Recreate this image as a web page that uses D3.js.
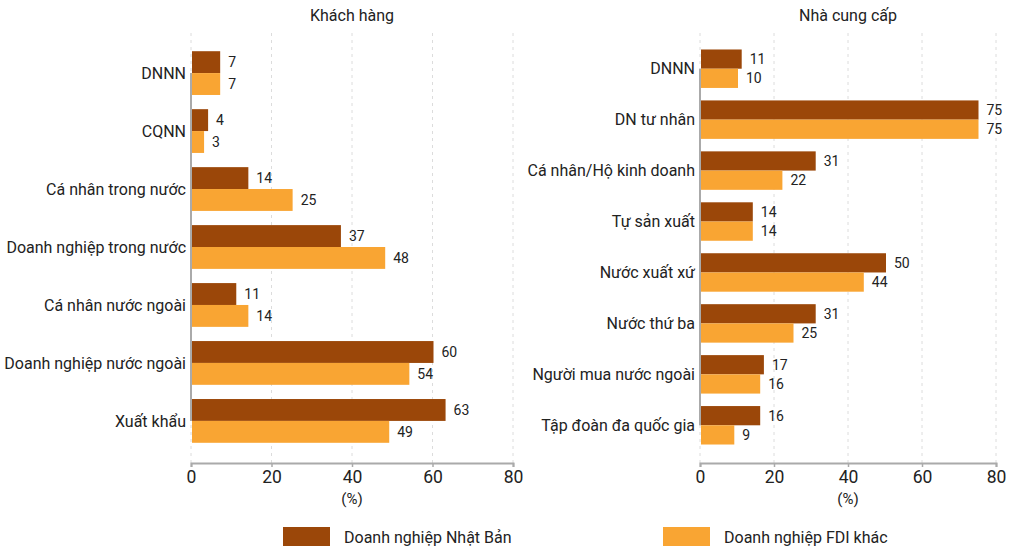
<!DOCTYPE html>
<html>
<head>
<meta charset="utf-8">
<script src="https://cdn.jsdelivr.net/npm/d3@7/dist/d3.min.js"></script>
<style>
  html, body { margin: 0; padding: 0; background: #fff; }
  svg text { font-family: Roboto, "Noto Sans", sans-serif; fill: #222; }
</style>
</head>
<body>
<svg id="chart" width="1011" height="549"></svg>
<script>
// Series names and colours
const seriesNames = ["Doanh nghiệp Nhật Bản", "Doanh nghiệp FDI khác"];
const seriesColors = ["#9b4709", "#f9a533"];

// Panel 1: customers
const customerTitle = "Khách hàng";
const customerCategories = ["DNNN", "CQNN", "Cá nhân trong nước", "Doanh nghiệp trong nước",
  "Cá nhân nước ngoài", "Doanh nghiệp nước ngoài", "Xuất khẩu"];
const customerJapan = [7, 4, 14, 37, 11, 60, 63];
const customerOtherFDI = [7, 3, 25, 48, 14, 54, 49];

// Panel 2: suppliers
const supplierTitle = "Nhà cung cấp";
const supplierCategories = ["DNNN", "DN tư nhân", "Cá nhân/Hộ kinh doanh", "Tự sản xuất",
  "Nước xuất xứ", "Nước thứ ba", "Người mua nước ngoài", "Tập đoàn đa quốc gia"];
const supplierJapan = [11, 75, 31, 14, 50, 31, 17, 16];
const supplierOtherFDI = [10, 75, 22, 14, 44, 25, 16, 9];

const xTicks = [0, 20, 40, 60, 80];
const axisUnit = "(%)";

const svg = d3.select("#chart");

function drawPanel(opt) {
  const g = svg.append("g");
  const x = d3.scaleLinear().domain([0, 80]).range([opt.x0, opt.x1]);
  const y = d3.scaleBand().domain(opt.categories).range([37, 457]).paddingInner(0.245).paddingOuter(0.245);
  const sub = d3.scaleBand().domain([0, 1]).range([0, y.bandwidth()]);
  const axisY = 463;

  // dashed vertical gridlines
  g.selectAll("line.grid").data(xTicks).join("line")
    .attr("class", "grid")
    .attr("x1", d => x(d)).attr("x2", d => x(d))
    .attr("y1", 33).attr("y2", axisY)
    .attr("stroke", "#dcdcdc").attr("stroke-width", 1)
    .attr("stroke-dasharray", "3,4");

  // category axis line
  g.append("line")
    .attr("x1", x(0)).attr("x2", x(0))
    .attr("y1", y(opt.categories[0]) + y.bandwidth() / 2)
    .attr("y2", y(opt.categories[opt.categories.length - 1]) + y.bandwidth() / 2)
    .attr("stroke", "#aaa").attr("stroke-width", 2);

  // bars
  const rows = opt.categories.map((c, i) => ({ c, vals: [opt.a[i], opt.b[i]] }));
  const grp = g.selectAll("g.row").data(rows).join("g")
    .attr("class", "row")
    .attr("transform", d => `translate(0,${y(d.c)})`);
  grp.selectAll("rect").data(d => d.vals.map((v, k) => ({ v, k }))).join("rect")
    .attr("x", x(0) + 1)
    .attr("y", d => sub(d.k))
    .attr("width", d => x(d.v) - x(0))
    .attr("height", sub.bandwidth())
    .attr("fill", d => seriesColors[d.k]);
  grp.selectAll("text.val").data(d => d.vals.map((v, k) => ({ v, k }))).join("text")
    .attr("class", "val")
    .attr("x", d => x(d.v) + 9)
    .attr("y", d => sub(d.k) + sub.bandwidth() / 2)
    .attr("dy", "0.35em")
    .attr("font-size", 14)
    .attr("fill", "#333")
    .text(d => d.v);

  // category labels
  g.selectAll("text.cat").data(opt.categories).join("text")
    .attr("class", "cat")
    .attr("x", x(0) - 5)
    .attr("y", d => y(d) + y.bandwidth() / 2)
    .attr("dy", "0.35em")
    .attr("text-anchor", "end")
    .attr("font-size", 16)
    .text(d => d);

  // value axis
  const ax = g.append("g").attr("transform", `translate(0,${axisY})`)
    .call(d3.axisBottom(x).tickValues(xTicks).tickSize(4).tickPadding(4));
  ax.select(".domain").attr("stroke", "#aaa").attr("stroke-width", 2);
  ax.selectAll(".tick line").attr("stroke", "#aaa").attr("stroke-width", 1.5);
  ax.selectAll(".tick text").attr("font-size", 17.5).attr("font-family", "Roboto, sans-serif").attr("fill", "#222");

  g.append("text")
    .attr("x", (opt.x0 + opt.x1) / 2).attr("y", 504)
    .attr("text-anchor", "middle").attr("font-size", 15)
    .text(axisUnit);

  g.append("text")
    .attr("x", (opt.x0 + opt.x1) / 2).attr("y", 21)
    .attr("text-anchor", "middle").attr("font-size", 16)
    .text(opt.title);
}

drawPanel({ title: customerTitle, categories: customerCategories, a: customerJapan, b: customerOtherFDI, x0: 191, x1: 513 });
drawPanel({ title: supplierTitle, categories: supplierCategories, a: supplierJapan, b: supplierOtherFDI, x0: 700, x1: 996 });

// legend
const legendX = [283, 663];
const lg = svg.selectAll("g.legend").data(seriesNames).join("g")
  .attr("class", "legend")
  .attr("transform", (d, i) => `translate(${legendX[i]},527)`);
lg.append("rect").attr("width", 47).attr("height", 19).attr("fill", (d, i) => seriesColors[i]);
lg.append("text").attr("x", 61).attr("y", 10).attr("dy", "0.35em").attr("font-size", 16).text(d => d);
</script>
</body>
</html>
